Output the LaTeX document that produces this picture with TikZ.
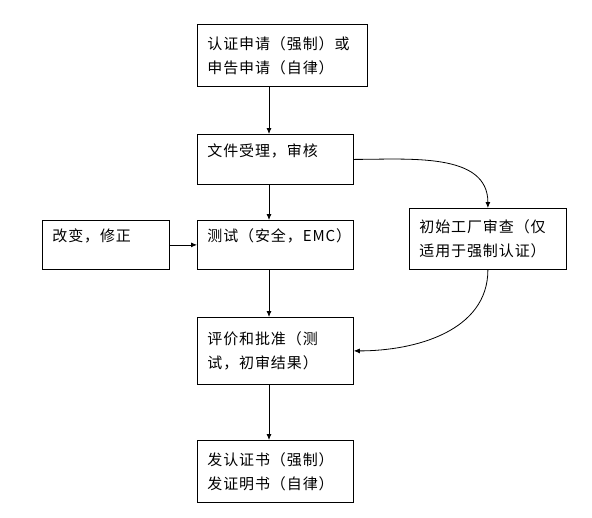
\documentclass[tikz,border=0pt]{standalone}
\usepackage{fontspec}
\setmainfont[LetterSpace=6]{Noto Sans CJK SC}
\usetikzlibrary{arrows.meta}

\tikzset{
  box/.style={draw, anchor=north west, align=left, inner xsep=10pt, inner ysep=0pt,
    font=\fontsize{15pt}{24pt}\selectfont},
  oneline/.style={text height=12pt, text depth=18pt}
}

\begin{document}
\begin{tikzpicture}[x=1pt, y=-1pt, line width=0.8pt, >={Latex[length=6pt,width=5pt]}]
  \useasboundingbox (0,0) rectangle (592,517);
  \coordinate (spine) at (269,0);

  % main column
  \node[box, text width=150pt, minimum height=62pt] (apply) at (197,24)
    {认证申请（强制）或\\申告申请（自律）};
  \node[box, oneline, text width=136pt, minimum height=50pt] (review) at (197,134)
    {文件受理，审核};
  \node[box, oneline, text width=136pt, minimum height=49pt] (test) at (197,220)
    {测试（安全，EMC）};
  \node[box, text width=136pt, minimum height=67pt] (assess) at (197,317)
    {评价和批准（测\\试，初审结果）};
  \node[box, text width=136pt, minimum height=62pt] (issue) at (197,440)
    {发认证书（强制）\\发证明书（自律）};

  % side boxes
  \node[box, oneline, text width=107pt, minimum height=49pt] (modify) at (42,220)
    {改变，修正};
  \node[box, text width=137pt, minimum height=61pt] (factory) at (409,208)
    {初始工厂审查（仅\\适用于强制认证）};

  \draw[->] (apply.south -| spine) -- (review.north -| spine);
  \draw[->] (review.south -| spine) -- (test.north -| spine);
  \draw[->] (test.south -| spine) -- (assess.north -| spine);
  \draw[->] (assess.south -| spine) -- (issue.north -| spine);
  \draw[->] (modify.east) -- (test.west);
  \draw[->] (review.east) to[out=0,in=90] (factory.north);
  \draw[->] (factory.south) to[out=-90,in=0] (assess.east);
\end{tikzpicture}
\end{document}
